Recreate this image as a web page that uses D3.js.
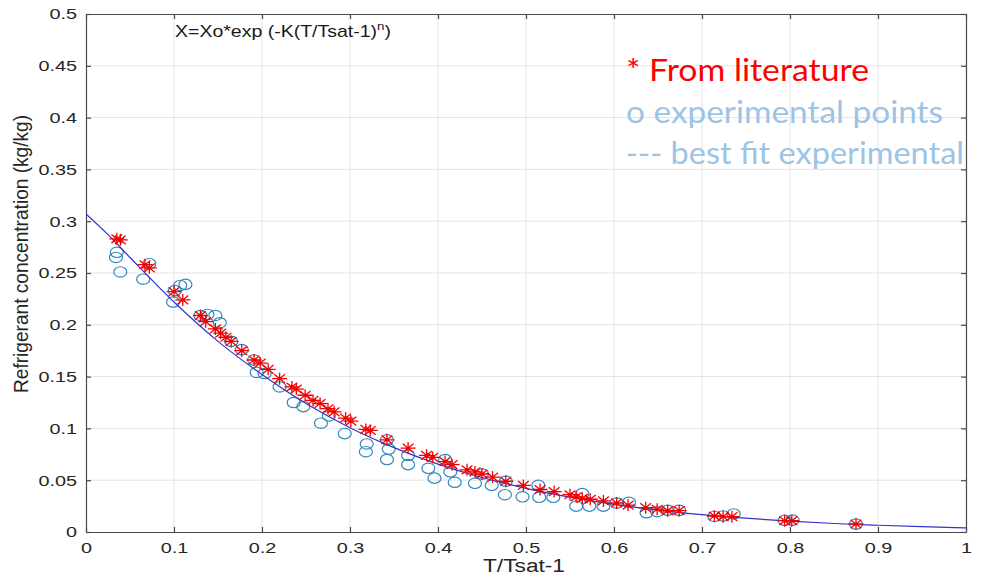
<!DOCTYPE html>
<html>
<head>
<meta charset="utf-8">
<script src="https://cdn.jsdelivr.net/npm/d3@7"></script>
<style>
body { margin: 0; background: #fff; }
svg { display: block; }
</style>
</head>
<body>
<div id="chart"></div>
<script>
// literature points (red asterisks)
var litT = [0.035,0.039,0.067,0.072,0.100,0.110,0.130,0.136,0.147,0.153,0.159,0.165,0.177,0.191,0.198,0.207,
  0.220,0.234,0.239,0.249,0.258,0.266,0.275,0.282,0.295,0.301,0.318,0.323,0.342,0.366,0.387,0.394,0.408,0.416,
  0.433,0.442,0.450,0.462,0.477,0.497,0.516,0.532,0.550,0.557,0.564,0.573,0.588,0.603,0.616,0.636,0.649,0.661,
  0.674,0.714,0.724,0.734,0.794,0.802,0.875];
var litX = [0.283,0.282,0.258,0.255,0.232,0.224,0.209,0.203,0.196,0.192,0.188,0.184,0.175,0.166,0.163,0.157,
  0.148,0.140,0.138,0.132,0.127,0.124,0.119,0.116,0.110,0.107,0.099,0.098,0.089,0.081,0.074,0.072,0.068,0.065,
  0.060,0.058,0.056,0.053,0.049,0.045,0.041,0.039,0.036,0.034,0.0325,0.0316,0.030,0.028,0.026,0.0235,0.022,0.0206,
  0.0206,0.0154,0.0148,0.0148,0.0109,0.0109,0.0077];

// experimental points (blue circles)
var expT = [0.035,0.034,0.039,0.065,0.072,0.099,0.101,0.107,0.113,0.130,0.138,0.147,0.152,0.165,0.177,0.191,
  0.194,0.203,0.220,0.236,0.247,0.267,0.276,0.294,0.319,0.318,0.342,0.344,0.342,0.366,0.366,0.389,0.396,0.408,
  0.414,0.419,0.442,0.450,0.461,0.477,0.476,0.496,0.514,0.515,0.531,0.557,0.564,0.572,0.588,0.603,0.617,0.637,
  0.649,0.661,0.674,0.714,0.724,0.736,0.794,0.803,0.875];
var expX = [0.270,0.265,0.251,0.244,0.259,0.222,0.233,0.238,0.239,0.209,0.210,0.209,0.202,0.184,0.176,0.166,
  0.154,0.153,0.140,0.125,0.121,0.105,0.112,0.095,0.085,0.0775,0.089,0.080,0.070,0.074,0.065,0.0615,0.052,0.070,
  0.058,0.048,0.047,0.056,0.045,0.049,0.036,0.034,0.045,0.0335,0.0335,0.025,0.037,0.025,0.025,0.028,0.0287,0.0186,
  0.0196,0.021,0.021,0.015,0.0155,0.0174,0.0112,0.0115,0.0077];

// best fit curve
var fitT = [0,0.025,0.05,0.1,0.15,0.2,0.25,0.3,0.35,0.4,0.45,0.5,0.55,0.6,0.65,0.7,0.75,0.8,0.85,0.9,0.95,1];
var fitX = [0.307,0.287,0.265,0.222,0.184,0.152,0.124,0.1006,0.0814,0.0655,0.0526,0.0421,0.0336,0.0267,0.0212,
  0.0168,0.0133,0.0105,0.0082,0.0065,0.0051,0.0040];

var xTicks = [0,0.1,0.2,0.3,0.4,0.5,0.6,0.7,0.8,0.9,1];
var xTickLabels = ["0","0.1","0.2","0.3","0.4","0.5","0.6","0.7","0.8","0.9","1"];
var yTicks = [0,0.05,0.1,0.15,0.2,0.25,0.3,0.35,0.4,0.45,0.5];
var yTickLabels = ["0","0.05","0.1","0.15","0.2","0.25","0.3","0.35","0.4","0.45","0.5"];

var legendLines = ["* From literature","o experimental points","--- best fit experimental"];
var legendColors = ["#ff0000","#9dc3e6","#9dc3e6"];
var legendWidths = [243,317,338];

var w = 1001, h = 575;
var pL = 86, pR = 966, pT = 14, pB = 532;
var stretch = 1.28;

var svg = d3.select("#chart").append("svg").attr("width", w).attr("height", h);

var x = d3.scaleLinear().domain([0, 1]).range([pL, pR]);
var y = d3.scaleLinear().domain([0, 0.5]).range([pB, pT]);

// grid
var grid = svg.append("g").attr("stroke", "#e3e3e3").attr("stroke-width", 1);
grid.selectAll(".gx").data(xTicks.slice(1, -1)).join("line")
  .attr("x1", d => x(d)).attr("x2", d => x(d)).attr("y1", pT).attr("y2", pB);
grid.selectAll(".gy").data(yTicks.slice(1, -1)).join("line")
  .attr("y1", d => y(d)).attr("y2", d => y(d)).attr("x1", pL).attr("x2", pR);

// axes
function styleAxis(g) {
  g.selectAll("path").attr("stroke", "#4a4a4a").attr("stroke-width", 1.2);
  g.selectAll("line").attr("stroke", "#4a4a4a").attr("stroke-width", 1.2);
  g.selectAll("text").attr("fill", "#262626")
    .attr("font-family", "'Liberation Sans', Arial, sans-serif").attr("font-size", 15.5)
    .attr("transform", "scale(" + stretch + ",1)");
}

var xAxis = svg.append("g").attr("transform", "translate(0," + pB + ")")
  .call(d3.axisBottom(x).tickValues(xTicks).tickFormat((d, i) => xTickLabels[i])
    .tickSizeInner(-5).tickSizeOuter(0).tickPadding(10));
styleAxis(xAxis);

var yAxis = svg.append("g").attr("transform", "translate(" + pL + ",0)")
  .call(d3.axisLeft(y).tickValues(yTicks).tickFormat((d, i) => yTickLabels[i])
    .tickSizeInner(-5).tickSizeOuter(0).tickPadding(7));
styleAxis(yAxis);

var xTop = svg.append("g").attr("transform", "translate(0," + pT + ")")
  .call(d3.axisTop(x).tickValues(xTicks).tickFormat("").tickSizeInner(-5).tickSizeOuter(0));
styleAxis(xTop);
var yRight = svg.append("g").attr("transform", "translate(" + pR + ",0)")
  .call(d3.axisRight(y).tickValues(yTicks).tickFormat("").tickSizeInner(-5).tickSizeOuter(0));
styleAxis(yRight);

// experimental circles
svg.append("g").selectAll("ellipse").data(expT).join("ellipse")
  .attr("cx", d => x(d)).attr("cy", (d, i) => y(expX[i]))
  .attr("rx", 6.5).attr("ry", 5.2)
  .attr("fill", "none").attr("stroke", "#3288bd").attr("stroke-width", 1.2);

// fit curve
svg.append("clipPath").attr("id", "plotclip").append("rect")
  .attr("x", pL).attr("y", pT).attr("width", pR - pL).attr("height", pB - pT);
var line = d3.line().x(d => x(d)).y((d, i) => y(fitX[i])).curve(d3.curveMonotoneX);
svg.append("path").datum(fitT).attr("d", line).attr("clip-path", "url(#plotclip)")
  .attr("fill", "none").attr("stroke", "#3232d2").attr("stroke-width", 1.2);

// literature asterisks
var sx = 7.5, sy = 6;
function asterisk(cx, cy) {
  return "M" + (cx - sx) + "," + cy + "L" + (cx + sx) + "," + cy +
    "M" + cx + "," + (cy - sy) + "L" + cx + "," + (cy + sy) +
    "M" + (cx - sx * 0.72) + "," + (cy - sy * 0.72) + "L" + (cx + sx * 0.72) + "," + (cy + sy * 0.72) +
    "M" + (cx - sx * 0.72) + "," + (cy + sy * 0.72) + "L" + (cx + sx * 0.72) + "," + (cy - sy * 0.72);
}
svg.append("g").selectAll("path").data(litT).join("path")
  .attr("d", (d, i) => asterisk(x(d), y(litX[i])))
  .attr("fill", "none").attr("stroke", "#f20000").attr("stroke-width", 1.3);

// formula
var formula = svg.append("g").attr("transform", "translate(175,37) scale(1.22,1)")
  .append("text").attr("font-family", "'Liberation Sans', Arial, sans-serif")
  .attr("font-size", 16).attr("fill", "#1a1a1a");
formula.append("tspan").text("X=Xo*exp (-K(T/Tsat-1)");
formula.append("tspan").attr("font-size", 11).attr("dy", -7).text("n");
formula.append("tspan").attr("dy", 7).text(")");

// axis titles
svg.append("text").attr("x", 524).attr("y", 572).attr("text-anchor", "middle")
  .attr("font-family", "'Liberation Sans', Arial, sans-serif").attr("font-size", 18)
  .attr("textLength", 82).attr("lengthAdjust", "spacingAndGlyphs")
  .attr("fill", "#262626").text("T/Tsat-1");

svg.append("text").attr("transform", "translate(28,254) rotate(-90) scale(1,1.2)")
  .attr("text-anchor", "middle")
  .attr("font-family", "'Liberation Sans', Arial, sans-serif").attr("font-size", 17)
  .attr("textLength", 278).attr("lengthAdjust", "spacingAndGlyphs")
  .attr("fill", "#262626").text("Refrigerant concentration (kg/kg)");

// legend text
svg.append("g").selectAll("text").data(legendLines).join("text")
  .attr("x", 626).attr("y", (d, i) => 81 + i * 41.5)
  .attr("font-family", "Lato, 'Open Sans', sans-serif").attr("font-size", 31)
  .attr("textLength", (d, i) => legendWidths[i]).attr("lengthAdjust", "spacingAndGlyphs")
  .attr("fill", (d, i) => legendColors[i]).text(d => d);
</script>
</body>
</html>
